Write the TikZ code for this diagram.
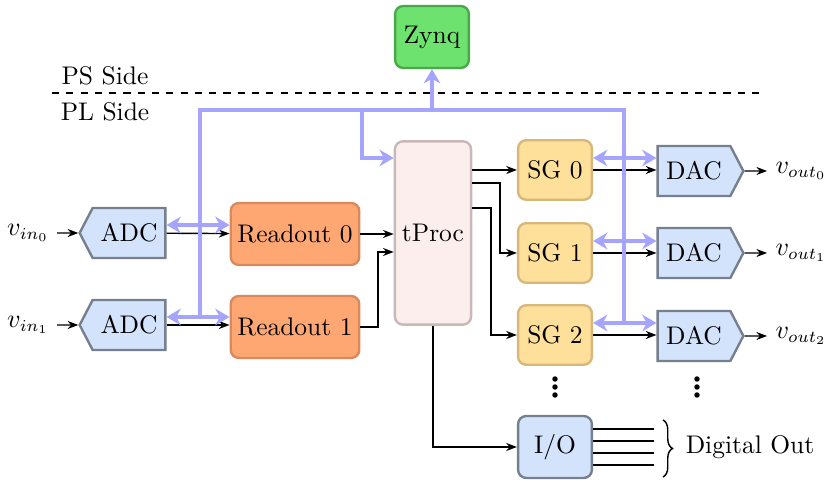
\documentclass[tikz,border=0pt]{standalone}
\usetikzlibrary{shapes.symbols,arrows.meta,decorations.pathreplacing}
\definecolor{busc}{HTML}{A5A5FF}
\definecolor{adcf}{HTML}{D3E3FC}\definecolor{adcd}{HTML}{75808F}
\definecolor{rof}{HTML}{FFA772}\definecolor{rod}{HTML}{D9895E}
\definecolor{tpf}{HTML}{FDEEEE}\definecolor{tpd}{HTML}{C8B8B8}
\definecolor{sgf}{HTML}{FFE09B}\definecolor{sgd}{HTML}{D8B87A}
\definecolor{zf}{HTML}{6EE26E}\definecolor{zd}{HTML}{4AA84A}
\tikzset{
 every node/.style={font=\fontsize{10.7}{13}\selectfont},
 blk/.style={rounded corners=3.4pt,line width=1pt,draw,inner sep=0pt},
 conv/.style={signal,line width=1pt,draw=adcd,fill=adcf,inner sep=0pt,minimum width=36pt,minimum height=21pt,signal pointer angle=125},
 sig/.style={-{Stealth[length=4.5pt]},line width=0.6pt},
 bus/.style={busc,line width=1.7pt},
 bar/.style={busc,line width=1.7pt,{Stealth[length=6pt,width=7pt]}-{Stealth[length=6pt,width=7pt]}},
 dot/.style={circle,fill=black,inner sep=0pt,minimum size=2.3pt},
}
\begin{document}
\begin{tikzpicture}[x=0.42pt,y=-0.42pt]
\useasboundingbox (0,0) rectangle (830,487);
% nodes
\node[blk,draw=zd,fill=zf,minimum width=31pt,minimum height=26pt] (zynq) at (432,37) {Zynq};
\node (ps) at (105,76) {PS Side};
\node (pl) at (105,112) {PL Side};
\coordinate (dl) at (52,93); \coordinate (dr) at (765,93);
\draw[dashed,line width=0.6pt] (dl) -- (dr);
\node[conv,signal to=west] (adc0) at (129,233) {ADC};
\node[conv,signal to=west] (adc1) at (129,325) {ADC};
\node (vin0) at (28,233) {$v_{in_0}$};
\node (vin1) at (28,325) {$v_{in_1}$};
\node[blk,draw=rod,fill=rof,minimum width=54pt,minimum height=26pt] (ro0) at (295,234) {Readout 0};
\node[blk,draw=rod,fill=rof,minimum width=54pt,minimum height=26pt] (ro1) at (295,327) {Readout 1};
\node[blk,draw=tpd,fill=tpf,minimum width=32pt,minimum height=77pt] (tp) at (433,233) {tProc};
\node[blk,draw=sgd,fill=sgf,minimum width=31pt,minimum height=25pt] (sg0) at (555,170) {SG 0};
\node[blk,draw=sgd,fill=sgf,minimum width=31pt,minimum height=25pt] (sg1) at (555,253) {SG 1};
\node[blk,draw=sgd,fill=sgf,minimum width=31pt,minimum height=25pt] (sg2) at (555,335) {SG 2};
\node[conv,signal to=east] (dac0) at (694,171) {DAC};
\node[conv,signal to=east] (dac1) at (694,253) {DAC};
\node[conv,signal to=east] (dac2) at (694,336) {DAC};
\node (vo0) at (801,171) {$v_{out_0}$};
\node (vo1) at (801,253) {$v_{out_1}$};
\node (vo2) at (801,336) {$v_{out_2}$};
\foreach \y [count=\i] in {379,387,395} {
  \node[dot] (da\i) at (555,\y) {};
  \node[dot] (db\i) at (697,\y) {};
}
\node[blk,draw=adcd,fill=adcf,minimum width=31pt,minimum height=26pt] (io) at (555,447) {I/O};
\node (dout) at (750,447) {Digital Out};
% black signals
\draw[sig] (vin0) -- (adc0);
\draw[sig] (vin1) -- (adc1);
\draw[sig] (adc0) -- (ro0);
\draw[sig] (adc1.east) -- (ro1.west |- adc1.east);
\draw[sig] (ro0.east) -- (tp.west |- ro0.east);
\draw[sig] (ro1.east) -- (378,327) -- (378,252) -- (tp.west |- 0,252);
\draw[sig] (tp.east |- sg0.west) -- (sg0.west);
\draw[sig] (tp.east |- 0,183) -- (500,183) -- (500,253) -- (sg1.west);
\draw[sig] (tp.east |- 0,208) -- (491,208) -- (491,335) -- (sg2.west);
\draw[sig] (sg0.east) -- (dac0.west |- sg0.east);
\draw[sig] (sg1.east) -- (dac1.west |- sg1.east);
\draw[sig] (sg2.east) -- (dac2.west |- sg2.east);
\draw[sig] (dac0) -- (vo0);
\draw[sig] (dac1) -- (vo1);
\draw[sig] (dac2) -- (vo2);
\draw[sig] (tp.south) -- (433,447) -- (io.west);
\foreach \y in {429,441,453,465} \draw[line width=0.6pt] (io.east |- 0,\y) -- (654,\y);
\draw[decorate,decoration={brace,amplitude=4pt},line width=0.6pt] (663,420) -- (663,477);
% bus
\draw[bus,-{Stealth[length=6pt,width=7pt]}] (432,110) -- (zynq.south);
\draw[bus] (200,317) -- (200,110) -- (624,110) -- (624,323);
\draw[bus,-{Stealth[length=6pt,width=7pt]}] (362,110) -- (362,158) -- (tp.west |- 0,158);
\draw[bar] (adc0.east |- 0,225) -- (ro0.west |- 0,225);
\draw[bar] (adc1.east |- 0,317) -- (ro1.west |- 0,317);
\draw[bar] (sg0.east |- 0,158) -- (dac0.west |- 0,158);
\draw[bar] (sg1.east |- 0,241) -- (dac1.west |- 0,241);
\draw[bar] (sg2.east |- 0,323) -- (dac2.west |- 0,323);
\end{tikzpicture}
\end{document}
